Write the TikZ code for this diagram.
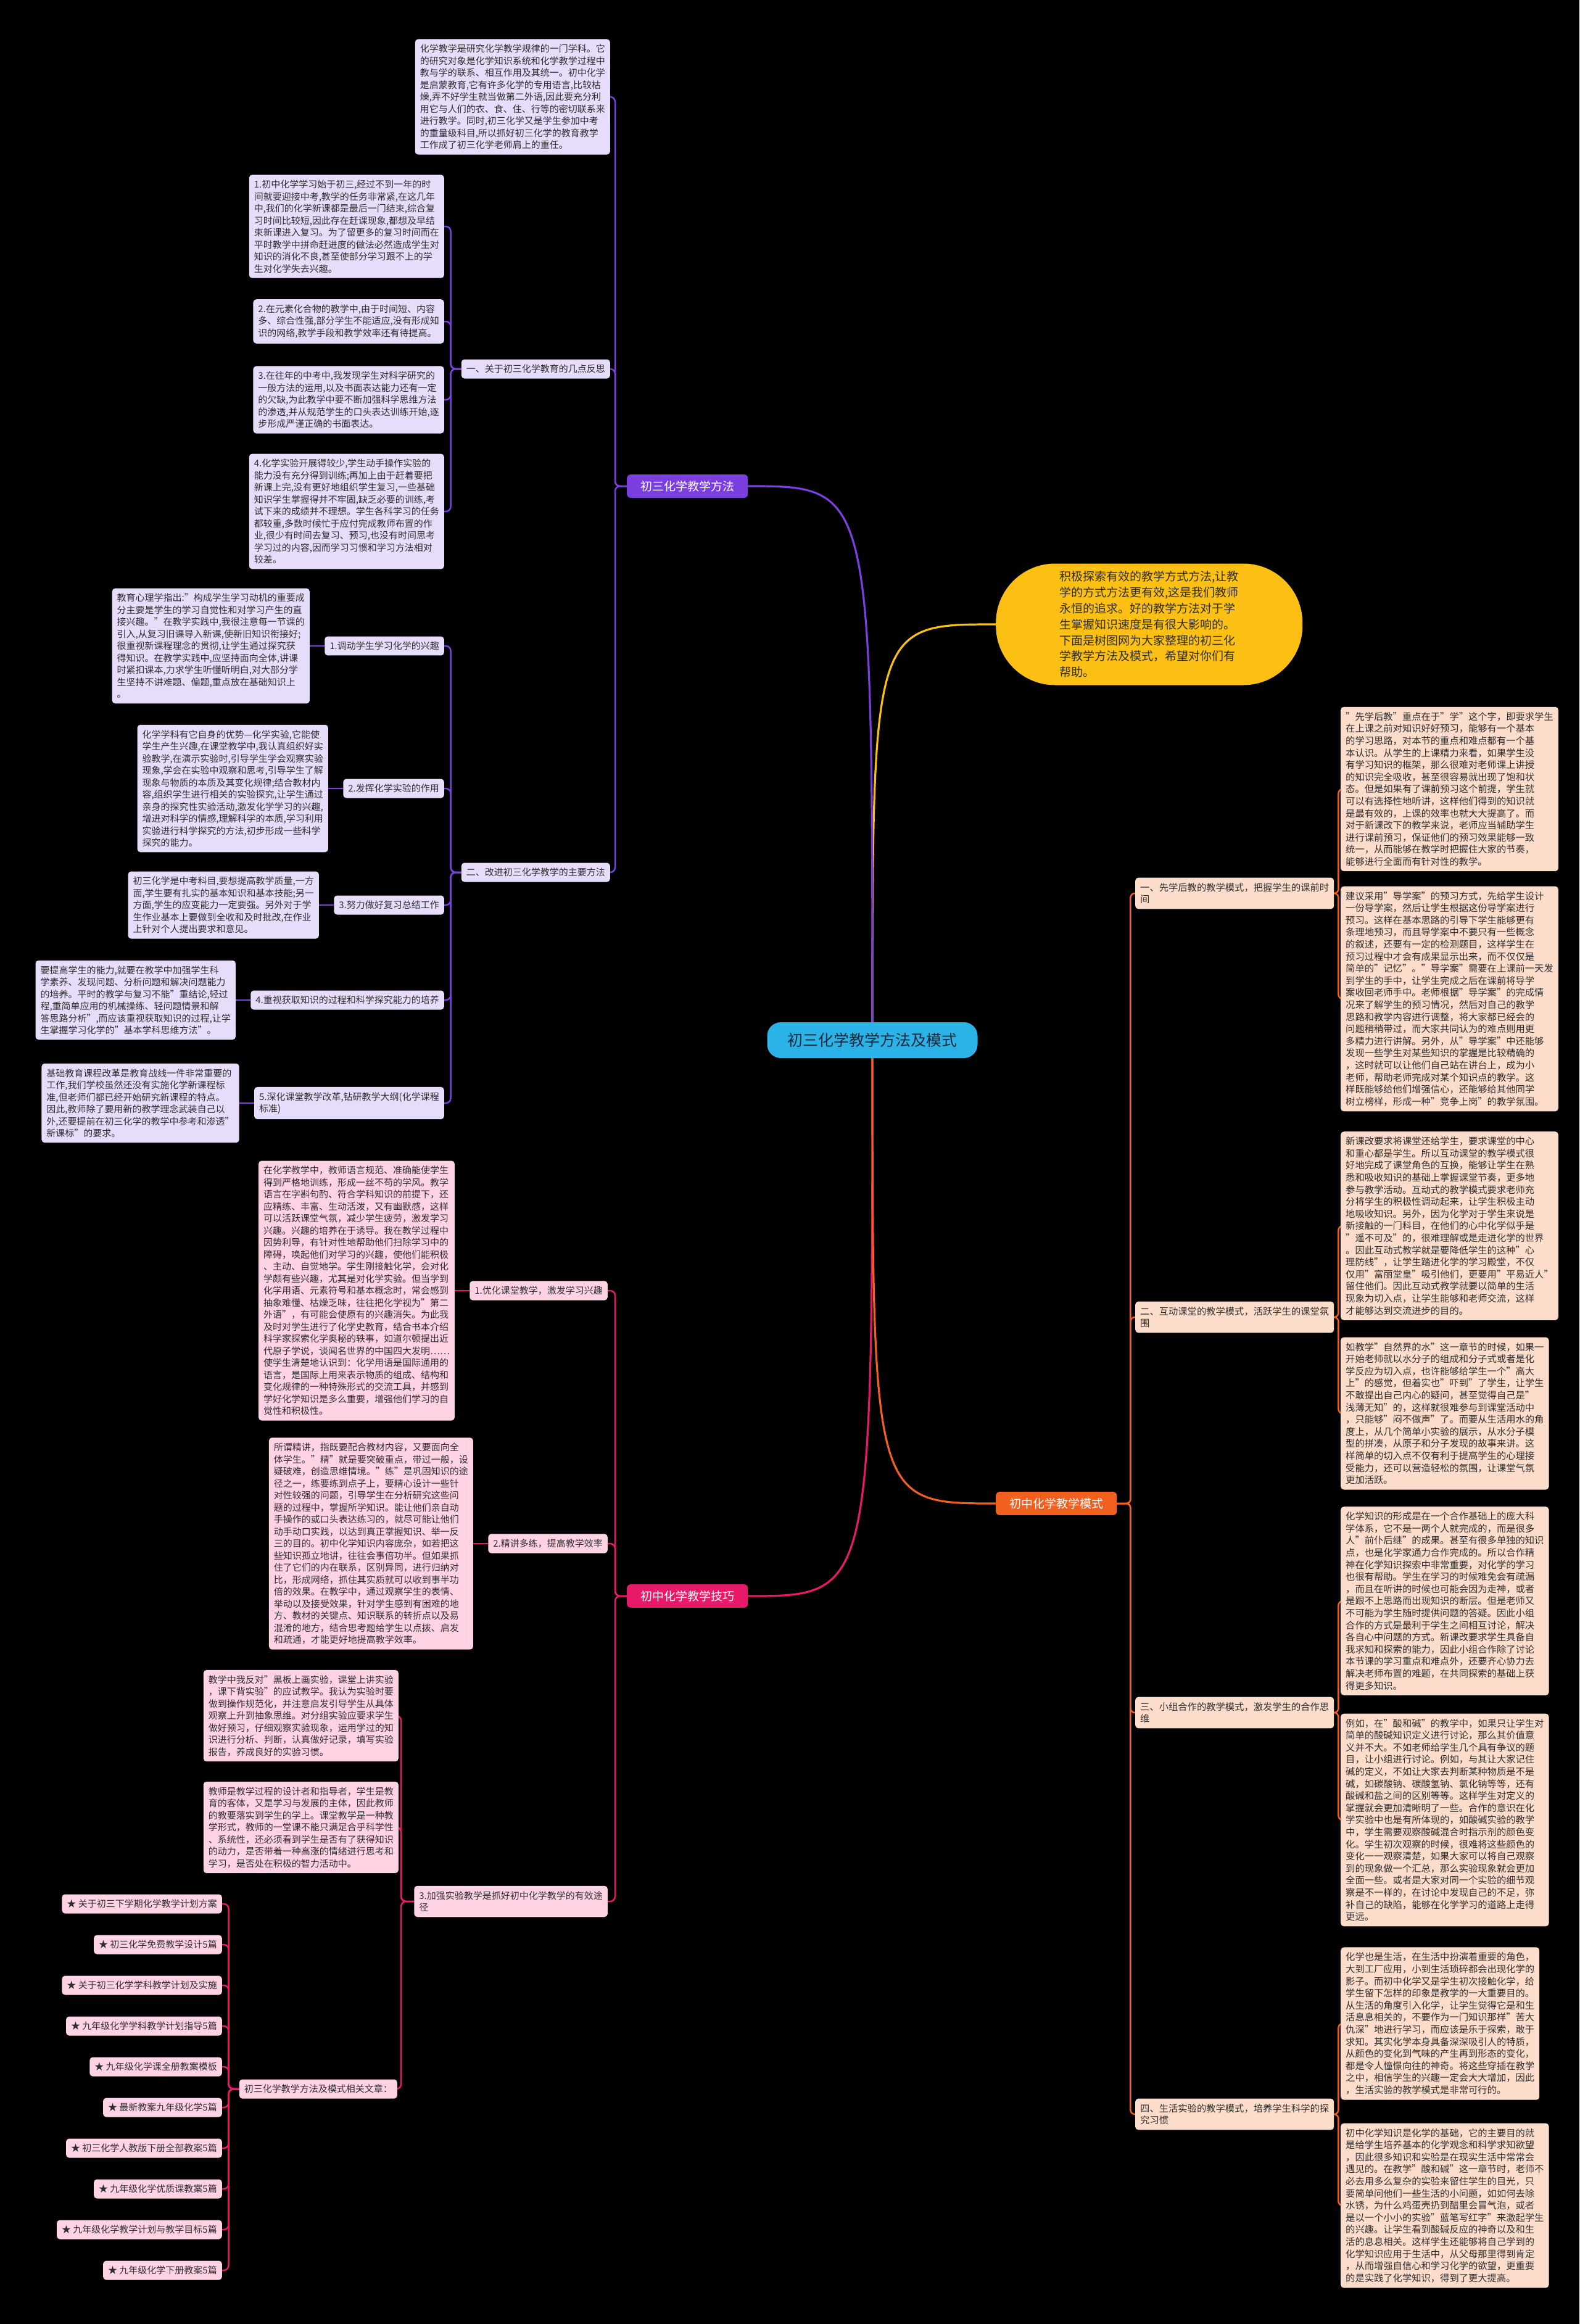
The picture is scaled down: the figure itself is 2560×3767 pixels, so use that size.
\documentclass[tikz,border=0pt]{standalone}
\usepackage{fontspec}
\setmainfont{Noto Sans CJK SC}
\usetikzlibrary{calc}
\pgfdeclarelayer{bgfill}
\pgfdeclarelayer{conn}
\pgfsetlayers{bgfill,conn,main}
\definecolor{bgc}{HTML}{000000}
\definecolor{cyanc}{HTML}{2BB3E8}
\definecolor{yelc}{HTML}{FCBF13}
\definecolor{purc}{HTML}{7B3FE0}
\definecolor{purl}{HTML}{E7DDFB}
\definecolor{pinkc}{HTML}{E9196A}
\definecolor{pinkl}{HTML}{FFD2E4}
\definecolor{orac}{HTML}{F1601F}
\definecolor{oral}{HTML}{FCDCCB}
\definecolor{txt}{HTML}{2E2E2E}
\definecolor{ctxt}{HTML}{1B2A3A}
\tikzset{
  lvbox/.style={align=left, rounded corners=5pt, inner xsep=8pt, inner ysep=8.5pt, text=txt, font={\fontsize{15pt}{19.5pt}\selectfont}},
  pbx/.style={lvbox, fill=purl},
  kbx/.style={lvbox, fill=pinkl},
  obx/.style={lvbox, fill=oral, font={\fontsize{15.3pt}{19.6pt}\selectfont}},
  mainn/.style={rounded corners=6pt, inner xsep=22pt, inner ysep=10pt, text=white, font={\fontsize{19pt}{22pt}\selectfont}},
  cnode/.style={fill=cyanc, text=ctxt, font={\fontsize{25pt}{28pt}\selectfont}, minimum width=341pt, minimum height=58pt, rounded corners=22pt, inner sep=0pt},
  inode/.style={fill=yelc, text=txt, align=left, font={\fontsize{19pt}{25.8pt}\selectfont}, minimum width=497pt, minimum height=197pt, rounded corners=96pt, inner sep=0pt},
  mcurve/.style={line width=3.2pt},
  pcon/.style={draw=purc, line width=2.5pt, rounded corners=8pt},
  kcon/.style={draw=pinkc, line width=2.5pt, rounded corners=8pt},
  ocon/.style={draw=orac, line width=2.5pt, rounded corners=7pt}
}
\begin{document}
\begin{tikzpicture}[x=1pt,y=-1pt]
\begin{pgfonlayer}{bgfill}
\fill[bgc] (0,0) rectangle (2560,3767);
\end{pgfonlayer}
\useasboundingbox (0,0) rectangle (2560,3767);

% centre and intro
\node[cnode] (c) at (1414,1686) {初三化学教学方法及模式};
\node[inode, anchor=west] (in) at (1614,1012) {积极探索有效的教学方式方法,让教\\学的方式方法更有效,这是我们教师\\永恒的追求。好的教学方法对于学\\生掌握知识速度是有很大影响的。\\下面是树图网为大家整理的初三化\\学教学方法及模式，希望对你们有\\帮助。};

% main branches
\node[mainn, fill=purc, anchor=west] (pm) at (1016,788) {初三化学教学方法};
\node[mainn, fill=pinkc, anchor=west] (km) at (1016,2587) {初中化学教学技巧};
\node[mainn, fill=orac, anchor=west] (om) at (1614,2437) {初中化学教学模式};

% ---------------- purple branch
\node[pbx, anchor=east] (pd) at (989,157) {化学教学是研究化学教学规律的一门学科。它\\的研究对象是化学知识系统和化学教学过程中\\教与学的联系、相互作用及其统一。初中化学\\是启蒙教育,它有许多化学的专用语言,比较枯\\燥,弄不好学生就当做第二外语,因此要充分利\\用它与人们的衣、食、住、行等的密切联系来\\进行教学。同时,初三化学又是学生参加中考\\的重量级科目,所以抓好初三化学的教育教学\\工作成了初三化学老师肩上的重任。};
\node[pbx, anchor=east] (p1) at (989,598) {一、关于初三化学教育的几点反思};
\node[pbx, anchor=east] (p2) at (989,1414) {二、改进初三化学教学的主要方法};

\node[pbx, anchor=east] (a1) at (720,367) {1.初中化学学习始于初三,经过不到一年的时\\间就要迎接中考,教学的任务非常紧,在这几年\\中,我们的化学新课都是最后一门结束,综合复\\习时间比较短,因此存在赶课现象,都想及早结\\束新课进入复习。为了留更多的复习时间而在\\平时教学中拼命赶进度的做法必然造成学生对\\知识的消化不良,甚至使部分学习跟不上的学\\生对化学失去兴趣。};
\node[pbx, anchor=east] (a2) at (720,521) {2.在元素化合物的教学中,由于时间短、内容\\多、综合性强,部分学生不能适应,没有形成知\\识的网络,教学手段和教学效率还有待提高。};
\node[pbx, anchor=east] (a3) at (720,648) {3.在往年的中考中,我发现学生对科学研究的\\一般方法的运用,以及书面表达能力还有一定\\的欠缺,为此教学中要不断加强科学思维方法\\的渗透,并从规范学生的口头表达训练开始,逐\\步形成严谨正确的书面表达。};
\node[pbx, anchor=east] (a4) at (720,829) {4.化学实验开展得较少,学生动手操作实验的\\能力没有充分得到训练;再加上由于赶着要把\\新课上完,没有更好地组织学生复习,一些基础\\知识学生掌握得并不牢固,缺乏必要的训练,考\\试下来的成绩并不理想。学生各科学习的任务\\都较重,多数时候忙于应付完成教师布置的作\\业,很少有时间去复习、预习,也没有时间思考\\学习过的内容,因而学习习惯和学习方法相对\\较差。};

\node[pbx, anchor=east] (s1) at (720,1047) {1.调动学生学习化学的兴趣};
\node[pbx, anchor=east] (s2) at (720,1278) {2.发挥化学实验的作用};
\node[pbx, anchor=east] (s3) at (720,1467) {3.努力做好复习总结工作};
\node[pbx, anchor=east] (s4) at (720,1621) {4.重视获取知识的过程和科学探究能力的培养};
\node[pbx, anchor=east] (s5) at (720,1788) {5.深化课堂教学改革,钻研教学大纲(化学课程\\标准)};

\node[pbx, anchor=east] (sb1) at ([xshift=-24pt]s1.west) {教育心理学指出:"构成学生学习动机的重要成\\分主要是学生的学习自觉性和对学习产生的直\\接兴趣。"在教学实践中,我很注意每一节课的\\引入,从复习旧课导入新课,使新旧知识衔接好;\\很重视新课程理念的贯彻,让学生通过探究获\\得知识。在教学实践中,应坚持面向全体,讲课\\时紧扣课本,力求学生听懂听明白,对大部分学\\生坚持不讲难题、偏题,重点放在基础知识上\\。};
\node[pbx, anchor=east] (sb2) at ([xshift=-24pt]s2.west) {化学学科有它自身的优势—化学实验,它能使\\学生产生兴趣,在课堂教学中,我认真组织好实\\验教学,在演示实验时,引导学生学会观察实验\\现象,学会在实验中观察和思考,引导学生了解\\现象与物质的本质及其变化规律;结合教材内\\容,组织学生进行相关的实验探究,让学生通过\\亲身的探究性实验活动,激发化学学习的兴趣,\\增进对科学的情感,理解科学的本质,学习利用\\实验进行科学探究的方法,初步形成一些科学\\探究的能力。};
\node[pbx, anchor=east] (sb3) at ([xshift=-24pt]s3.west) {初三化学是中考科目,要想提高教学质量,一方\\面,学生要有扎实的基本知识和基本技能;另一\\方面,学生的应变能力一定要强。另外对于学\\生作业基本上要做到全收和及时批改,在作业\\上针对个人提出要求和意见。};
\node[pbx, anchor=east] (sb4) at ([xshift=-24pt]s4.west) {要提高学生的能力,就要在教学中加强学生科\\学素养、发现问题、分析问题和解决问题能力\\的培养。平时的教学与复习不能"重结论,轻过\\程,重简单应用的机械操练、轻问题情景和解\\答思路分析",而应该重视获取知识的过程,让学\\生掌握学习化学的"基本学科思维方法"。};
\node[pbx, anchor=east] (sb5) at ([xshift=-24pt]s5.west) {基础教育课程改革是教育战线一件非常重要的\\工作,我们学校虽然还没有实施化学新课程标\\准,但老师们都已经开始研究新课程的特点。\\因此,教师除了要用新的教学理念武装自己以\\外,还要提前在初三化学的教学中参考和渗透"\\新课标"的要求。};

% ---------------- pink branch
\node[kbx, anchor=east] (k1) at (985,2092) {1.优化课堂教学，激发学习兴趣};
\node[kbx, anchor=east] (k2) at (985,2502) {2.精讲多练，提高教学效率};
\node[kbx, anchor=east] (k3) at (985,3082) {3.加强实验教学是抓好初中化学教学的有效途\\径};
\node[kbx, anchor=east] (kb1) at ([xshift=-24pt]k1.west) {在化学教学中，教师语言规范、准确能使学生\\得到严格地训练，形成一丝不苟的学风。教学\\语言在字斟句酌、符合学科知识的前提下，还\\应精练、丰富、生动活泼，又有幽默感，这样\\可以活跃课堂气氛，减少学生疲劳，激发学习\\兴趣。兴趣的培养在于诱导。我在教学过程中\\因势利导，有针对性地帮助他们扫除学习中的\\障碍，唤起他们对学习的兴趣，使他们能积极\\、主动、自觉地学。学生刚接触化学，会对化\\学颇有些兴趣，尤其是对化学实验。但当学到\\化学用语、元素符号和基本概念时，常会感到\\抽象难懂、枯燥乏味，往往把化学视为"第二\\外语"，有可能会使原有的兴趣消失。为此我\\及时对学生进行了化学史教育，结合书本介绍\\科学家探索化学奥秘的轶事，如道尔顿提出近\\代原子学说，谈闻名世界的中国四大发明……\\使学生清楚地认识到：化学用语是国际通用的\\语言，是国际上用来表示物质的组成、结构和\\变化规律的一种特殊形式的交流工具，并感到\\学好化学知识是多么重要，增强他们学习的自\\觉性和积极性。};
\node[kbx, anchor=east] (kb2) at ([xshift=-24pt]k2.west) {所谓精讲，指既要配合教材内容，又要面向全\\体学生。"精"就是要突破重点，带过一般，设\\疑破难，创造思维情境。"练"是巩固知识的途\\径之一，练要练到点子上，要精心设计一些针\\对性较强的问题，引导学生在分析研究这些问\\题的过程中，掌握所学知识。能让他们亲自动\\手操作的或口头表达练习的，就尽可能让他们\\动手动口实践，以达到真正掌握知识、举一反\\三的目的。初中化学知识内容庞杂，如若把这\\些知识孤立地讲，往往会事倍功半。但如果抓\\住了它们的内在联系，区别异同，进行归纳对\\比，形成网络，抓住其实质就可以收到事半功\\倍的效果。在教学中，通过观察学生的表情、\\举动以及接受效果，针对学生感到有困难的地\\方、教材的关键点、知识联系的转折点以及易\\混淆的地方，结合思考题给学生以点拨、启发\\和疏通，才能更好地提高教学效率。};
\node[kbx, anchor=east] (k3a) at (646,2781) {教学中我反对"黑板上画实验，课堂上讲实验\\，课下背实验"的应试教学。我认为实验时要\\做到操作规范化，并注意启发引导学生从具体\\观察上升到抽象思维。对分组实验应要求学生\\做好预习，仔细观察实验现象，运用学过的知\\识进行分析、判断，认真做好记录，填写实验\\报告，养成良好的实验习惯。};
\node[kbx, anchor=east] (k3b) at (646,2962) {教师是教学过程的设计者和指导者，学生是教\\育的客体，又是学习与发展的主体，因此教师\\的教要落实到学生的学上。课堂教学是一种教\\学形式，教师的一堂课不能只满足合乎科学性\\、系统性，还必须看到学生是否有了获得知识\\的动力，是否带着一种高涨的情绪进行思考和\\学习，是否处在积极的智力活动中。};
\node[kbx, anchor=east] (k3c) at (644,3386) {初三化学教学方法及模式相关文章：};
\node[kbx, anchor=east] (l1) at (360,3086) {★ 关于初三下学期化学教学计划方案};
\node[kbx, anchor=east] (l2) at (360,3152) {★ 初三化学免费教学设计5篇};
\node[kbx, anchor=east] (l3) at (360,3218) {★ 关于初三化学学科教学计划及实施};
\node[kbx, anchor=east] (l4) at (360,3284) {★ 九年级化学学科教学计划指导5篇};
\node[kbx, anchor=east] (l5) at (360,3350) {★ 九年级化学课全册教案模板};
\node[kbx, anchor=east] (l6) at (360,3416) {★ 最新教案九年级化学5篇};
\node[kbx, anchor=east] (l7) at (360,3482) {★ 初三化学人教版下册全部教案5篇};
\node[kbx, anchor=east] (l8) at (360,3548) {★ 九年级化学优质课教案5篇};
\node[kbx, anchor=east] (l9) at (360,3614) {★ 九年级化学教学计划与教学目标5篇};
\node[kbx, anchor=east] (l10) at (360,3680) {★ 九年级化学下册教案5篇};

% ---------------- orange branch
\node[obx, anchor=west] (o1) at (1840,1448) {一、先学后教的教学模式，把握学生的课前时\\间};
\node[obx, anchor=west] (o2) at (1840,2135) {二、互动课堂的教学模式，活跃学生的课堂氛\\围};
\node[obx, anchor=west] (o3) at (1840,2776) {三、小组合作的教学模式，激发学生的合作思\\维};
\node[obx, anchor=west] (o4) at (1840,3427) {四、生活实验的教学模式，培养学生科学的探\\究习惯};

\node[obx, anchor=west] (r1) at (2173,1279) {"先学后教"重点在于"学"这个字，即要求学生\\在上课之前对知识好好预习，能够有一个基本\\的学习思路，对本节的重点和难点都有一个基\\本认识。从学生的上课精力来看，如果学生没\\有学习知识的框架，那么很难对老师课上讲授\\的知识完全吸收，甚至很容易就出现了饱和状\\态。但是如果有了课前预习这个前提，学生就\\可以有选择性地听讲，这样他们得到的知识就\\是最有效的，上课的效率也就大大提高了。而\\对于新课改下的教学来说，老师应当辅助学生\\进行课前预习，保证他们的预习效果能够一致\\统一，从而能够在教学时把握住大家的节奏，\\能够进行全面而有针对性的教学。};
\node[obx, anchor=west] (r2) at (2173,1619) {建议采用"导学案"的预习方式，先给学生设计\\一份导学案，然后让学生根据这份导学案进行\\预习。这样在基本思路的引导下学生能够更有\\条理地预习，而且导学案中不要只有一些概念\\的叙述，还要有一定的检测题目，这样学生在\\预习过程中才会有成果显示出来，而不仅仅是\\简单的"记忆"。"导学案"需要在上课前一天发\\到学生的手中，让学生完成之后在课前将导学\\案收回老师手中。老师根据"导学案"的完成情\\况来了解学生的预习情况，然后对自己的教学\\思路和教学内容进行调整，将大家都已经会的\\问题稍稍带过，而大家共同认为的难点则用更\\多精力进行讲解。另外，从"导学案"中还能够\\发现一些学生对某些知识的掌握是比较精确的\\，这时就可以让他们自己站在讲台上，成为小\\老师，帮助老师完成对某个知识点的教学。这\\样既能够给他们增强信心，还能够给其他同学\\树立榜样，形成一种"竞争上岗"的教学氛围。};
\node[obx, anchor=west] (r3) at (2173,1987) {新课改要求将课堂还给学生，要求课堂的中心\\和重心都是学生。所以互动课堂的教学模式很\\好地完成了课堂角色的互换，能够让学生在熟\\悉和吸收知识的基础上掌握课堂节奏，更多地\\参与教学活动。互动式的教学模式要求老师充\\分将学生的积极性调动起来，让学生积极主动\\地吸收知识。另外，因为化学对于学生来说是\\新接触的一门科目，在他们的心中化学似乎是\\"遥不可及"的，很难理解或是走进化学的世界\\。因此互动式教学就是要降低学生的这种"心\\理防线"，让学生踏进化学的学习殿堂，不仅\\仅用"富丽堂皇"吸引他们，更要用"平易近人"\\留住他们。因此互动式教学就要以简单的生活\\现象为切入点，让学生能够和老师交流，这样\\才能够达到交流进步的目的。};
\node[obx, anchor=west] (r4) at (2173,2291) {如教学"自然界的水"这一章节的时候，如果一\\开始老师就以水分子的组成和分子式或者是化\\学反应为切入点，也许能够给学生一个"高大\\上"的感觉，但着实也"吓到"了学生，让学生\\不敢提出自己内心的疑问，甚至觉得自己是"\\浅薄无知"的，这样就很难参与到课堂活动中\\，只能够"闷不做声"了。而要从生活用水的角\\度上，从几个简单小实验的展示，从水分子模\\型的拼凑，从原子和分子发现的故事来讲。这\\样简单的切入点不仅有利于提高学生的心理接\\受能力，还可以营造轻松的氛围，让课堂气氛\\更加活跃。};
\node[obx, anchor=west] (r5) at (2173,2595) {化学知识的形成是在一个合作基础上的庞大科\\学体系，它不是一两个人就完成的，而是很多\\人"前仆后继"的成果。甚至有很多单独的知识\\点，也是化学家通力合作完成的。所以合作精\\神在化学知识探索中非常重要，对化学的学习\\也很有帮助。学生在学习的时候难免会有疏漏\\，而且在听讲的时候也可能会因为走神，或者\\是跟不上思路而出现知识的断层。但是老师又\\不可能为学生随时提供问题的答疑。因此小组\\合作的方式是最利于学生之间相互讨论，解决\\各自心中问题的方式。新课改要求学生具备自\\我求知和探索的能力，因此小组合作除了讨论\\本节课的学习重点和难点外，还要齐心协力去\\解决老师布置的难题，在共同探索的基础上获\\得更多知识。};
\node[obx, anchor=west] (r6) at (2173,2950) {例如，在"酸和碱"的教学中，如果只让学生对\\简单的酸碱知识定义进行讨论，那么其价值意\\义并不大。不如老师给学生几个具有争议的题\\目，让小组进行讨论。例如，与其让大家记住\\碱的定义，不如让大家去判断某种物质是不是\\碱，如碳酸钠、碳酸氢钠、氯化钠等等，还有\\酸碱和盐之间的区别等等。这样学生对定义的\\掌握就会更加清晰明了一些。合作的意识在化\\学实验中也是有所体现的，如酸碱实验的教学\\中，学生需要观察酸碱混合时指示剂的颜色变\\化。学生初次观察的时候，很难将这些颜色的\\变化一一观察清楚，如果大家可以将自己观察\\到的现象做一个汇总，那么实验现象就会更加\\全面一些。或者是大家对同一个实验的细节观\\察是不一样的，在讨论中发现自己的不足，弥\\补自己的缺陷，能够在化学学习的道路上走得\\更远。};
\node[obx, anchor=west] (r7) at (2173,3280) {化学也是生活，在生活中扮演着重要的角色，\\大到工厂应用，小到生活琐碎都会出现化学的\\影子。而初中化学又是学生初次接触化学，给\\学生留下怎样的印象是教学的一大重要目的。\\从生活的角度引入化学，让学生觉得它是和生\\活息息相关的，不要作为一门知识那样"苦大\\仇深"地进行学习，而应该是乐于探索，敢于\\求知。其实化学本身具备深深吸引人的特质，\\从颜色的变化到气味的产生再到形态的变化，\\都是令人憧憬向往的神奇。将这些穿插在教学\\之中，相信学生的兴趣一定会大大增加，因此\\，生活实验的教学模式是非常可行的。};
\node[obx, anchor=west] (r8) at (2173,3575) {初中化学知识是化学的基础，它的主要目的就\\是给学生培养基本的化学观念和科学求知欲望\\，因此很多知识和实验是在现实生活中常常会\\遇见的。在教学"酸和碱"这一章节时，老师不\\必去用多么复杂的实验来留住学生的目光，只\\要简单问他们一些生活的小问题，如如何去除\\水锈，为什么鸡蛋壳扔到醋里会冒气泡，或者\\是以一个小小的实验"蓝笔写红字"来激起学生\\的兴趣。让学生看到酸碱反应的神奇以及和生\\活的息息相关。这样学生还能够将自己学到的\\化学知识应用于生活中，从父母那里得到肯定\\，从而增强自信心和学习化学的欲望，更重要\\的是实践了化学知识，得到了更大提高。};

% ---------------- connectors
\begin{pgfonlayer}{conn}
\draw[mcurve, draw=yelc] (c.center) .. controls (c.center |- in.west) .. (in.west);
\draw[mcurve, draw=purc] (c.center) .. controls (c.center |- pm.east) .. (pm.east);
\draw[mcurve, draw=pinkc] (c.center) .. controls (c.center |- km.east) .. (km.east);
\draw[mcurve, draw=orac] (c.center) .. controls (c.center |- om.west) .. (om.west);

\foreach \n in {pd,p1,p2} \draw[pcon] (pm.west) -- ++(-19,0) |- (\n.east);
\foreach \n in {a1,a2,a3,a4} \draw[pcon] (p1.west) -- ++(-17,0) |- (\n.east);
\foreach \n in {s1,s2,s3,s4,s5} \draw[pcon] (p2.west) -- ++(-17,0) |- (\n.east);
\foreach \i in {1,...,5} \draw[pcon] (s\i.west) -- (sb\i.east);

\foreach \n in {k1,k2,k3} \draw[kcon] (km.west) -- ++(-19,0) |- (\n.east);
\draw[kcon] (k1.west) -- (kb1.east);
\draw[kcon] (k2.west) -- (kb2.east);
\foreach \n in {k3a,k3b,k3c} \draw[kcon] (k3.west) -- ++(-21,0) |- (\n.east);
\foreach \i in {1,...,10} \draw[kcon] (k3c.west) -- ++(-17,0) |- (l\i.east);

\foreach \n in {o1,o2,o3,o4} \draw[ocon] (om.east) -- ++(22,0) |- (\n.west);
\foreach \n in {r1,r2} \draw[ocon] (o1.east) -- ++(7,0) |- (\n.west);
\foreach \n in {r3,r4} \draw[ocon] (o2.east) -- ++(7,0) |- (\n.west);
\foreach \n in {r5,r6} \draw[ocon] (o3.east) -- ++(7,0) |- (\n.west);
\foreach \n in {r7,r8} \draw[ocon] (o4.east) -- ++(7,0) |- (\n.west);
\end{pgfonlayer}
\end{tikzpicture}
\end{document}
